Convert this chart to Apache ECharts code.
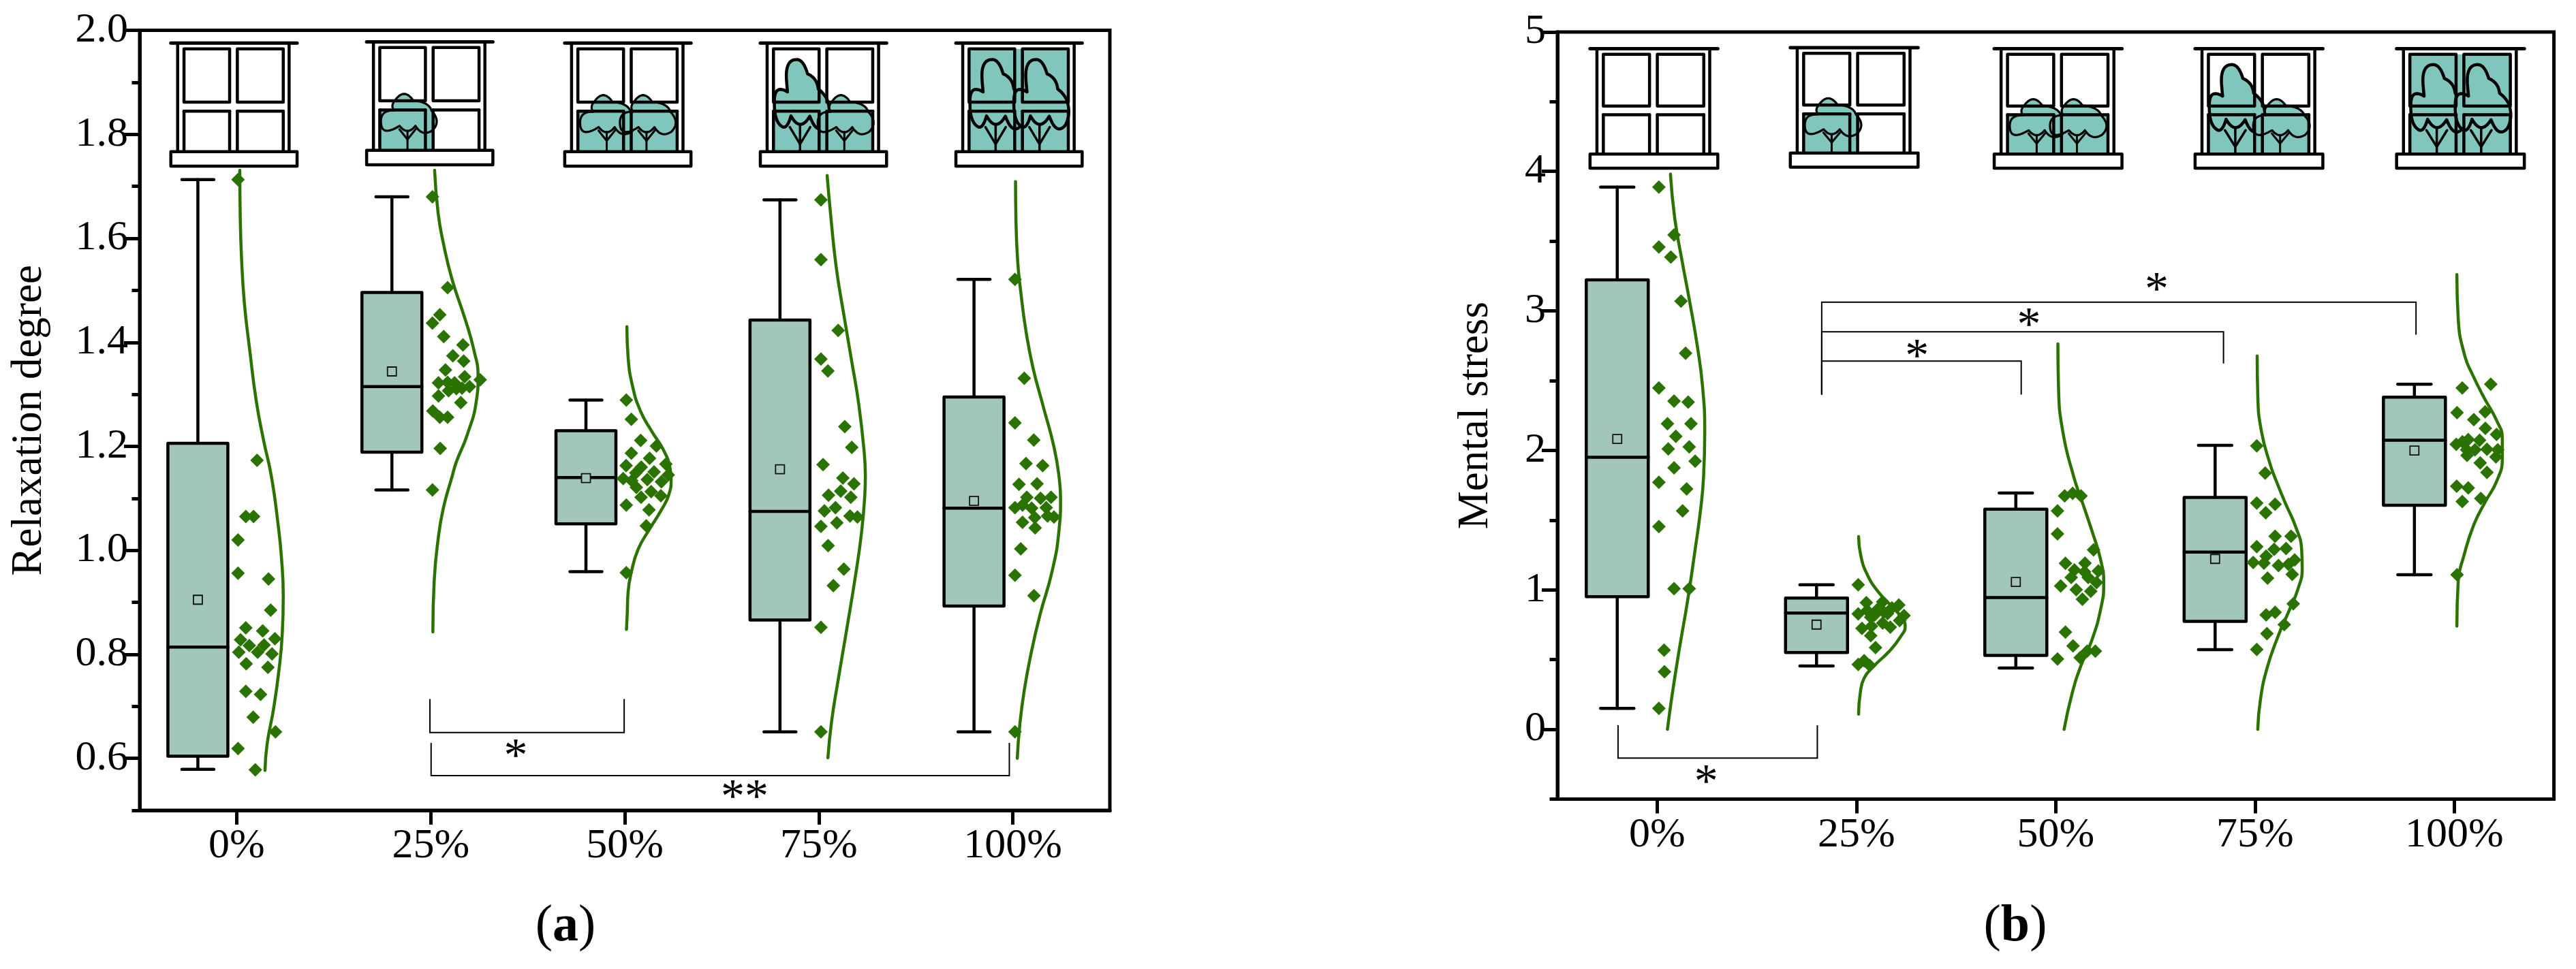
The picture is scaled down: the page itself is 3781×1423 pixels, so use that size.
<!DOCTYPE html>
<html>
<head>
<meta charset="utf-8">
<style>html,body{margin:0;padding:0;background:#fff}#c{width:3781px;height:1423px}</style>
<script src="https://cdn.jsdelivr.net/npm/echarts@6/dist/echarts.min.js"></script>
</head>
<body>
<div id="c"></div>
<script>
const categories = ['0%','25%','50%','75%','100%'];
const viewLevels = [0,1,2,3,4];

// Panel (a) Relaxation degree
const relaxTicks = [0.6,0.8,1.0,1.2,1.4,1.6,1.8,2.0];
const relaxMinorTicks = [0.5,0.7,0.9,1.1,1.3,1.5,1.7,1.9];
const relaxLow    = [0.579,1.116,0.959,0.651,0.651];
const relaxQ1     = [0.604,1.189,1.051,0.866,0.893];
const relaxMedian = [0.814,1.315,1.140,1.075,1.081];
const relaxQ3     = [1.206,1.496,1.230,1.443,1.295];
const relaxHigh   = [1.713,1.680,1.289,1.674,1.521];
const relaxMean   = [0.905,1.344,1.139,1.156,1.095];

const relaxPts0 = [[.007,1.713],[.105,1.173],[.047,1.065],[.087,1.065],[.007,1.020],[.007,.956],[.164,.945],[.175,.885],[.047,.851],[.134,.845],[.020,.828],[.197,.830],[.065,.817],[.141,.818],[.011,.804],[.108,.804],[.182,.801],[.049,.782],[.161,.775],[.047,.729],[.123,.723],[.085,.679],[.200,.651],[.007,.619],[.096,.578]];
const relaxPts1 = [[.009,1.680],[.087,1.505],[.047,1.453],[.009,1.437],[.067,1.411],[.166,1.395],[.114,1.374],[.170,1.364],[.076,1.347],[.175,1.334],[.255,1.328],[.040,1.322],[.087,1.323],[.123,1.322],[.132,1.311],[.092,1.307],[.161,1.312],[.200,1.315],[.040,1.297],[.155,1.284],[.011,1.268],[.047,1.256],[.087,1.256],[.049,1.196],[.009,1.116]];
const relaxPts2 = [[.008,1.289],[.034,1.252],[.082,1.2115],[.163,1.2006],[.034,1.187],[.128,1.177],[.212,1.166],[.007,1.163],[.085,1.160],[.151,1.151],[.057,1.149],[.224,1.145],[-.008,1.138],[.116,1.136],[.036,1.134],[.189,1.132],[.060,1.121],[.136,1.113],[.186,1.105],[.084,1.102],[.008,1.087],[.125,1.078],[.111,1.047],[.008,.957]];
const relaxPts3 = [[.011,1.674],[.011,1.559],[.100,1.423],[.011,1.368],[.047,1.345],[.134,1.238],[.170,1.198],[.022,1.165],[.124,1.139],[.181,1.128],[.113,1.114],[.050,1.106],[.165,1.102],[.086,1.082],[.029,1.076],[.161,1.066],[.199,1.064],[.093,1.053],[.011,1.046],[.048,1.009],[.129,.964],[.075,.932],[.011,.852],[.011,.651]];
const relaxPts4 = [[.011,1.521],[.059,1.331],[.011,1.245],[.108,1.212],[.068,1.167],[.154,1.163],[.032,1.127],[.125,1.128],[.072,1.102],[.143,1.100],[.197,1.102],[.050,1.087],[.011,1.082],[.097,1.081],[.172,1.082],[.113,1.063],[.179,1.066],[.212,1.064],[.050,1.054],[.115,1.043],[.041,1.003],[.011,.952],[.109,.913],[.011,.651]];

const relaxCurve0 = [[.016,1.731],[.018,1.649],[.025,1.562],[.040,1.474],[.067,1.386],[.101,1.287],[.139,1.211],[.179,1.142],[.213,1.051],[.231,.985],[.240,.912],[.235,.840],[.217,.767],[.190,.695],[.157,.628],[.146,.577]];
const relaxCurve1 = [[.020,1.731],[.038,1.649],[.065,1.591],[.110,1.521],[.177,1.445],[.222,1.386],[.244,1.334],[.235,1.287],[.188,1.222],[.132,1.170],[.110,1.142],[.065,1.081],[.038,1.021],[.018,.942],[.011,.843]];
const relaxCurve2 = [[.011,1.430],[.017,1.373],[.040,1.316],[.081,1.268],[.139,1.229],[.198,1.194],[.233,1.159],[.239,1.137],[.227,1.107],[.186,1.076],[.128,1.041],[.069,1.002],[.034,.958],[.017,.919],[.013,.880],[.009,.848]];
const relaxCurve3 = [[.043,1.721],[.063,1.638],[.090,1.544],[.125,1.462],[.170,1.363],[.206,1.281],[.233,1.193],[.240,1.142],[.237,1.105],[.220,1.033],[.188,.9485],[.143,.846],[.099,.749],[.066,.671],[.047,.601]];
const relaxCurve4 = [[.014,1.709],[.016,1.638],[.025,1.556],[.041,1.497],[.068,1.421],[.104,1.351],[.158,1.275],[.212,1.199],[.238,1.142],[.246,1.099],[.238,1.039],[.203,.9605],[.140,.876],[.095,.8035],[.059,.731],[.036,.665],[.023,.600]];

// bracket: from index, to index, left drop end, right drop end, bar level
const relaxBrackets = [[.996,1.997,.714,.714,.6496],[1.002,3.982,.6297,.6297,.5668]];
const relaxStars = [[1.438,.6166,'*'],[2.618,.538,'**']];

// Panel (b) Mental stress
const stressTicks = [0,1,2,3,4,5];
const stressMinorTicks = [-0.5,0.5,1.5,2.5,3.5,4.5];
const stressLow    = [0.150,0.454,0.440,0.571,1.109];
const stressQ1     = [0.951,0.551,0.530,0.774,1.607];
const stressMedian = [1.951,0.834,0.945,1.271,2.073];
const stressQ3     = [3.222,0.942,1.578,1.663,2.381];
const stressHigh   = [3.888,1.037,1.695,2.036,2.474];
const stressMean   = [2.082,0.751,1.057,1.222,1.999];

const stressPts0 = [[.009,3.888],[.085,3.545],[.009,3.458],[.069,3.386],[.120,3.070],[.143,2.697],[.009,2.448],[.085,2.354],[.156,2.346],[.052,2.191],[.170,2.191],[.094,2.101],[.056,2.010],[.161,2.025],[.191,1.923],[.085,1.875],[.009,1.771],[.148,1.724],[.128,1.566],[.009,1.454],[.085,1.008],[.161,1.008],[.035,.568],[.037,.413],[.009,.150]];
const stressPts1 = [[.009,1.037],[.050,.909],[.132,.915],[.213,.891],[.009,.828],[.072,.803],[.178,.870],[.156,.830],[.109,.864],[.239,.816],[.132,.762],[.217,.780],[.076,.740],[.028,.724],[.170,.733],[.072,.672],[.096,.586],[.039,.492],[.009,.465],[.067,.458],[.137,.841],[.054,.852],[.091,.819]];
const stressPts2 = [[.045,1.674],[.085,1.692],[.127,1.674],[.009,1.566],[.009,1.402],[.190,1.287],[.049,1.190],[.147,1.192],[.094,1.143],[.214,1.136],[.145,1.129],[.078,1.089],[.163,1.089],[.205,1.053],[.025,1.028],[.103,1.001],[.176,.990],[.134,.933],[.049,.697],[.087,.598],[.158,.560],[.199,.560],[.123,.514],[.009,.505]];
const stressPts3 = [[.009,2.033],[.051,1.837],[.009,1.623],[.101,1.614],[.054,1.553],[.101,1.384],[.181,1.384],[.009,1.310],[.096,1.291],[.156,1.296],[.056,1.242],[.199,1.215],[-.009,1.197],[.045,1.192],[.118,1.174],[.168,1.183],[.187,1.111],[.063,1.084],[.192,.900],[.056,.821],[.101,.839],[.147,.751],[.060,.686],[.009,.573]];
const stressPts4 = [[.183,2.474],[.040,2.448],[.014,2.270],[.155,2.277],[.098,2.220],[.156,2.158],[.212,2.114],[.127,2.073],[.070,2.078],[.041,2.062],[.010,2.044],[.104,2.005],[.062,2.005],[.164,2.008],[.218,2.005],[.064,1.964],[.209,1.953],[.130,1.911],[.164,1.842],[.012,1.743],[.070,1.731],[.040,1.634],[.133,1.655],[.014,1.109]];

const stressCurve0 = [[.067,3.981],[.089,3.659],[.126,3.353],[.163,3.070],[.200,2.764],[.228,2.459],[.239,2.132],[.233,1.809],[.219,1.584],[.191,1.291],[.154,.931],[.111,.571],[.074,.233],[.052,0]];
const stressCurve1 = [[.011,1.382],[.022,1.246],[.054,1.111],[.109,.987],[.174,.886],[.224,.807],[.245,.740],[.220,.661],[.165,.560],[.091,.458],[.039,.368],[.019,.256],[.011,.109]];
const stressCurve2 = [[.011,2.764],[.014,2.459],[.036,2.132],[.091,1.809],[.136,1.618],[.181,1.427],[.226,1.213],[.241,1.044],[.226,.864],[.181,.638],[.127,.458],[.082,.255],[.042,0]];
const stressCurve3 = [[.011,2.677],[.014,2.394],[.033,2.132],[.078,1.892],[.105,1.787],[.150,1.629],[.205,1.449],[.234,1.291],[.237,1.156],[.214,.999],[.168,.841],[.114,.661],[.060,.436],[.027,.210],[.014,0]];
const stressCurve4 = [[.013,3.260],[.020,2.939],[.053,2.677],[.092,2.542],[.149,2.379],[.212,2.216],[.241,2.086],[.241,1.940],[.212,1.777],[.155,1.630],[.098,1.467],[.047,1.239],[.020,1.066],[.013,.740]];

const stressBrackets = [[-.196,.804,.030,.030,-.206],[.826,1.827,2.40,2.40,2.640],[.826,2.842,2.40,2.623,2.850],[.826,3.808,2.40,2.830,3.063]];
const stressStars = [[.246,-.331,'*'],[1.304,2.723,'*'],[1.866,2.948,'*'],[2.507,3.202,'*']];

// window pictures: axis position of the top centre of each picture
const relaxWindowX = [-.014,.995,2.016,3.024,4.032];
const relaxWindowY = [1.9755,1.978,1.9755,1.9755,1.9755];
const stressWindowX = [-.016,.989,2.012,3.020,4.031];
const stressWindowY = [4.880,4.887,4.880,4.880,4.880];

const FONT = '"Liberation Serif","Times New Roman",serif';
const BOX = '#a2c6bb', TREE = '#81c6bc', GREEN = '#2b7300';

// tree crowns: closed chains of quadratic curves [x0,y0,cx,cy], thirds of a pixel, relative to the foot of the trunk
const smallCrown = [[-35,-108,0,-63],[35,-108,65,-58],[110,-88,150,-128],[105,-176,95,-213],[25,-220,-15,-278],[-55,-220,-75,-198],[-60,-176,-120,-178],[-117,-123,-115,-58]];
const largeCrown = [[-40,-158,0,-83],[43,-156,75,-68],[115,-118,140,-168],[120,-228,105,-258],[80,-276,75,-325],[33,-343,15,-406],[-15,-406,-65,-406],[-60,-320,-58,-290],[-55,-263,-115,-300],[-113,-218,-115,-128],[-75,-108,-55,-103]];

function crownPoints(chain, px, py, sx, sy) {
  const out = [];
  for (let i = 0; i < chain.length; i++) {
    const a = chain[i], b = chain[(i + 1) % chain.length];
    for (let k = 0; k < 10; k++) {
      const t = k / 10, u = 1 - t;
      const x = u*u*a[0] + 2*u*t*a[2] + t*t*b[0];
      const y = u*u*a[1] + 2*u*t*a[3] + t*t*b[1];
      out.push([px + x/3*sx, py + y/3*sy]);
    }
  }
  return out;
}

function makeWindowRender(sx, sy) {
  return function (params, api) {
    const c = api.coord([api.value(0), api.value(1)]);
    const level = api.value(2);
    const X = v => c[0] + (v - 92.65) * sx;
    const Y = v => c[1] + v * sy;
    const kids = [];
    const black = w => ({stroke:'#000', lineWidth:w, fill:null, lineJoin:'round', lineCap:'round'});
    const rect = (x0,y0,x1,y1,style) => ({type:'rect', shape:{x:X(x0),y:Y(y0),width:(x1-x0)*sx,height:(y1-y0)*sy}, style});
    const line = (x0,y0,x1,y1,w) => ({type:'line', shape:{x1:X(x0),y1:Y(y0),x2:X(x1),y2:Y(y1)}, style:black(w)});
    const ground = 159.4;
    if (level === 1) kids.push(rect(19.3,100,98.3,ground,{fill:TREE}));
    if (level === 2) kids.push(rect(19.3,100,165,ground,{fill:TREE}));
    if (level === 3) { kids.push(rect(19.3,100,165,ground,{fill:TREE})); kids.push(rect(19.3,86,97,100,{fill:TREE})); }
    if (level === 4) kids.push(rect(19.3,8.4,165,ground,{fill:TREE}));
    const trees = [[], [[60,0]], [[61.6,0],[120,0]], [[58.3,1],[123.3,0]], [[58.3,1],[122.7,1]]][level];
    trees.forEach(t => {
      const big = t[1] === 1, px = X(t[0]), py = Y(ground);
      kids.push({type:'polygon', shape:{points:crownPoints(big?largeCrown:smallCrown,px,py,sx,sy)},
        style:{fill:TREE, stroke:'#000', lineWidth:big?4.5:3.2, lineJoin:'round'}});
      const tip = big ? 39 : 29, fork = big ? 11 : 16, ax = big ? 15 : 12, ay = big ? 36 : 31;
      kids.push(line(t[0],ground,t[0],ground-tip,big?3.5:3));
      kids.push(line(t[0],ground-fork,t[0]-ax,ground-ay,big?3.5:3));
      kids.push(line(t[0],ground-fork,t[0]+ax,ground-ay,big?3.5:3));
    });
    // panes
    const w = 4.5;
    kids.push(rect(19.3,8.4,86.3,86.7,black(w)));
    kids.push(rect(97.6,8.4,165,86.7,black(w)));
    kids.push(line(19.3,100,86.3,100,w)); kids.push(line(97.6,100,165,100,w));
    [19.3,86.3,97.6,165].forEach(x => kids.push(line(x,100,x,ground,w)));
    // posts, top bar, sill
    kids.push(line(10,0,10,ground,4.5)); kids.push(line(173.6,0,173.6,ground,4.5));
    kids.push(line(0,0,185.3,0,5));
    kids.push(rect(0,159.4,185.3,180.7,{fill:'#fff',stroke:'#000',lineWidth:4.5,lineJoin:'round'}));
    return {type:'group', children:kids};
  };
}

function makeBoxRender(boxW, capW) {
  return function (params, api) {
    const x = api.value(0) - 0.2;
    const P = v => api.coord([x, v]);
    const cx = P(0)[0];
    const low = P(api.value(1))[1], q1 = P(api.value(2))[1], med = P(api.value(3))[1],
          q3 = P(api.value(4))[1], high = P(api.value(5))[1], mean = P(api.value(6))[1];
    const s = w => ({stroke:'#000', lineWidth:w, lineCap:'round'});
    const hl = (y, w, lw) => ({type:'line', shape:{x1:cx-w/2,y1:y,x2:cx+w/2,y2:y}, style:s(lw)});
    return {type:'group', children:[
      {type:'line', shape:{x1:cx,y1:high,x2:cx,y2:q3}, style:s(4.5)},
      {type:'line', shape:{x1:cx,y1:q1,x2:cx,y2:low}, style:s(4.5)},
      hl(high, capW, 4.5), hl(low, capW, 4.5),
      {type:'rect', shape:{x:cx-boxW/2,y:q3,width:boxW,height:q1-q3}, style:{fill:BOX,stroke:'#000',lineWidth:4.5,lineJoin:'round'}},
      hl(med, boxW, 4.5),
      {type:'rect', shape:{x:cx-6.5,y:mean-6.5,width:13,height:13}, style:{fill:BOX,stroke:'#111',lineWidth:1.8}}
    ]};
  };
}

function bracketRender(params, api) {
  const x0 = api.value(0), x1 = api.value(1);
  const pts = [api.coord([x0, api.value(2)]), api.coord([x0, api.value(4)]), api.coord([x1, api.value(4)]), api.coord([x1, api.value(3)])];
  return {type:'polyline', shape:{points:pts}, style:{stroke:'#000', lineWidth:2, fill:null}};
}

function yAxisPair(grid, min, max, ticks, minor, name, nameGap) {
  return [
    {type:'value', gridIndex:grid, min, max, position:'left', name, nameLocation:'middle', nameGap,
     nameTextStyle:{fontFamily:FONT, fontSize:63, color:'#000'},
     splitLine:{show:false},
     axisLine:{show:true, onZero:false, lineStyle:{color:'#000', width:5}},
     axisTick:{show:true, customValues:ticks, length:23, lineStyle:{color:'#000', width:5}},
     axisLabel:{show:true, customValues:ticks, margin:17, color:'#000', fontFamily:FONT, fontSize:62,
       formatter: min === 0.5 ? (v => Number(v).toFixed(1)) : (v => String(v))}},
    {type:'value', gridIndex:grid, min, max, position:'left', splitLine:{show:false},
     axisLine:{show:false, onZero:false},
     axisTick:{show:true, customValues:minor, length:11.5, lineStyle:{color:'#000', width:5}},
     axisLabel:{show:false}}
  ];
}
function xAxisPair(grid) {
  return [
    {type:'category', gridIndex:grid, data:categories, boundaryGap:true, position:'bottom',
     axisLine:{show:true, onZero:false, lineStyle:{color:'#000', width:5}},
     axisTick:{show:true, alignWithLabel:true, length:21, lineStyle:{color:'#000', width:5}},
     axisLabel:{show:true, interval:0, margin:22, color:'#000', fontFamily:FONT, fontSize:62},
     splitLine:{show:false}},
    {type:'value', gridIndex:grid, min:-0.5, max:4.5, show:false, axisLine:{onZero:false}, splitLine:{show:false}}
  ];
}

function panelSeries(xi, yi, pts, curves, stats, brackets, stars, wx, wy, sx, sy, boxW, capW) {
  const out = [];
  out.push({type:'custom', xAxisIndex:xi, yAxisIndex:yi, z:2, silent:true,
    data: wx.map((x,i)=>[x, wy[i], viewLevels[i]]), renderItem:makeWindowRender(sx, sy)});
  out.push({type:'custom', xAxisIndex:xi, yAxisIndex:yi, z:3, silent:true,
    data: categories.map((c,i)=>[i, stats[0][i], stats[1][i], stats[2][i], stats[3][i], stats[4][i], stats[5][i]]),
    renderItem:makeBoxRender(boxW, capW)});
  curves.forEach((c,i)=> out.push({type:'line', xAxisIndex:xi, yAxisIndex:yi, z:4, silent:true, symbol:'none', showSymbol:false,
    smooth:0.5, clip:false, lineStyle:{color:GREEN, width:4.5, cap:'round'},
    data:c.map(p=>[i+p[0], p[1]])}));
  pts.forEach((p,i)=> out.push({type:'scatter', xAxisIndex:xi, yAxisIndex:yi, z:5, silent:true, symbol:'diamond', symbolSize:20,
    itemStyle:{color:GREEN, opacity:1}, data:p.map(q=>[i+q[0], q[1]])}));
  out.push({type:'custom', xAxisIndex:xi, yAxisIndex:yi, z:6, silent:true, data:brackets, renderItem:bracketRender});
  out.push({type:'custom', xAxisIndex:xi, yAxisIndex:yi, z:7, silent:true,
    data:stars.map(s=>({value:[s[0],s[1]], name:s[2]})),
    renderItem:(params, api) => {
      const c = api.coord([api.value(0), api.value(1)]);
      return {type:'text', style:{x:c[0], y:c[1]+13, text:stars[params.dataIndex][2], fill:'#000', font:'70px '+FONT, textAlign:'center', textVerticalAlign:'middle'}};
    }});
  return out;
}

const chart = echarts.init(document.getElementById('c'), null, {renderer:'canvas', width:3781, height:1423});
const caption = (ch, x) => ({text:'{r|(}{b|'+ch+'}{r|)}', left:x, top:1318, textAlign:'center', textStyle:{fontWeight:'normal',
  rich:{r:{fontFamily:FONT,fontSize:76,fontWeight:'normal',color:'#000'}, b:{fontFamily:FONT,fontSize:76,fontWeight:'bold',color:'#000'}}}});
const gridBase = {show:true, borderColor:'#000', borderWidth:5, backgroundColor:'transparent', containLabel:false};

chart.setOption({
  animation:false,
  backgroundColor:'#fff',
  title:[caption('a',825), caption('b',2953)],
  grid:[
    Object.assign({left:205, top:44.6, width:1424, height:1145.4}, gridBase),
    Object.assign({left:2286, top:46.9, width:1462.6, height:1126.6}, gridBase)
  ],
  xAxis:[...xAxisPair(0), ...xAxisPair(1)],
  yAxis:[...yAxisPair(0,0.5,2.0,relaxTicks,relaxMinorTicks,'Relaxation degree',130),
         ...yAxisPair(1,-0.5,5,stressTicks,stressMinorTicks,'Mental stress',88)],
  series:[
    ...panelSeries(1,0,[relaxPts0,relaxPts1,relaxPts2,relaxPts3,relaxPts4],
      [relaxCurve0,relaxCurve1,relaxCurve2,relaxCurve3,relaxCurve4],
      [relaxLow,relaxQ1,relaxMedian,relaxQ3,relaxHigh,relaxMean],relaxBrackets,relaxStars,relaxWindowX,relaxWindowY,1,1,88,47),
    ...panelSeries(3,2,[stressPts0,stressPts1,stressPts2,stressPts3,stressPts4],
      [stressCurve0,stressCurve1,stressCurve2,stressCurve3,stressCurve4],
      [stressLow,stressQ1,stressMedian,stressQ3,stressHigh,stressMean],stressBrackets,stressStars,stressWindowX,stressWindowY,1.012,0.971,91,49)
  ]
});
</script>
</body>
</html>
